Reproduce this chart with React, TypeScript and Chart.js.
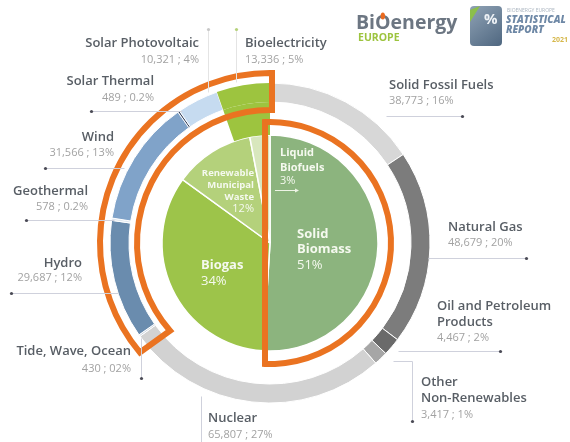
import React, { useEffect, useRef } from "react";
import { Chart, registerables } from "chart.js";
Chart.register(...registerables);

// ---- Data ----
const sourceLabels = [
  "Solid Fossil Fuels",
  "Natural Gas",
  "Oil and Petroleum Products",
  "Other Non-Renewables",
  "Nuclear",
  "Tide, Wave, Ocean",
  "Hydro",
  "Geothermal",
  "Wind",
  "Solar Thermal",
  "Solar Photovoltaic",
  "Bioelectricity",
];
const sourceValues = [38773, 48679, 4467, 3417, 65807, 430, 29687, 578, 31566, 489, 10321, 13336];
const sourceShares = ["16%", "20%", "2%", "1%", "27%", "02%", "12%", "0.2%", "13%", "0.2%", "4%", "5%"];

const bioLabels = ["Solid Biomass", "Biogas", "Renewable Municipal Waste", "Liquid Biofuels"];
const bioShares = [51, 34, 12, 3];

// ---- Styles ----
const sourceColors = [
  "#d7d7d7", "#7c7c7c", "#6a6a6a", "#a6a6a6", "#d2d2d2", "#c9d3de",
  "#6a8cae", "#dfe7f0", "#80a3c9", "#34435f", "#c6dbf0", "#9dc43f",
];
const bioColors = ["#8cb47e", "#9dc44a", "#b4d17b", "#d8e7bd"];
const ORANGE = "#ea7321";

// label layout (positions only)
type Lay = { align: CanvasTextAlign; x: number; ty: number[]; lines?: string[]; vy: number; lead: number[][]; dot?: number[]; dotColor?: string; leadColor?: string };
const outerLayout: Lay[] = [
  { align: "left", x: 389, ty: [85], vy: 101, lead: [[386, 116], [462, 116]], dot: [462, 116] },
  { align: "left", x: 448, ty: [227], vy: 243, lead: [[428, 258], [526, 258]], dot: [526, 258] },
  { align: "left", x: 437, ty: [306, 322], lines: ["Oil and Petroleum", "Products"], vy: 338, lead: [[398, 351], [500, 351]], dot: [500, 351] },
  { align: "left", x: 421, ty: [382, 398], lines: ["Other", "Non-Renewables"], vy: 415, lead: [[393, 361], [412, 361], [412, 421]], dot: [412, 421] },
  { align: "left", x: 208, ty: [418], vy: 435, lead: [[201, 396], [201, 442]] },
  { align: "right", x: 131, ty: [351], vy: 369, lead: [[141, 338], [141, 378]], dot: [141, 378] },
  { align: "right", x: 82, ty: [263], vy: 278, lead: [[11, 293], [118, 293]], dot: [11, 293] },
  { align: "right", x: 88, ty: [191], vy: 207, lead: [[26, 220], [114, 220]], dot: [26, 220] },
  { align: "right", x: 114, ty: [137], vy: 153, lead: [[45, 168], [124, 168]], dot: [45, 168] },
  { align: "right", x: 154, ty: [81], vy: 98, lead: [[91, 111], [182, 111]], dot: [91, 111] },
  { align: "right", x: 199, ty: [43], vy: 60, lead: [[208, 29], [208, 92]], dot: [208, 29], dotColor: "#c8c8c8", leadColor: "#e4e4e4" },
  { align: "left", x: 245, ty: [43], vy: 60, lead: [[236, 29], [236, 82]], dot: [236, 29], dotColor: "#b5d27a", leadColor: "#e4e4e4" },
];

type InLay = { align: CanvasTextAlign; x: number; lines: string[]; ys: number[]; size: number };
const innerLayout: InLay[] = [
  { align: "left", x: 297, lines: ["Solid", "Biomass"], ys: [234, 249, 265], size: 13 },
  { align: "left", x: 201, lines: ["Biogas"], ys: [265, 281], size: 13 },
  { align: "right", x: 254, lines: ["Renewable", "Municipal", "Waste"], ys: [173, 185, 197, 209], size: 9.5 },
  { align: "left", x: 280, lines: ["Liquid", "Biofuels"], ys: [153, 168, 181], size: 11 },
];

const FONT = "'Open Sans', 'DejaVu Sans', sans-serif";

function fmt(n: number) {
  return n.toLocaleString("en-US");
}

const deg = (d: number) => (d * Math.PI) / 180;

const decorPlugin = {
  id: "decor",
  afterDatasetsDraw(chart: any) {
    const ctx: CanvasRenderingContext2D = chart.ctx;
    const arc = chart.getDatasetMeta(0).data[0];
    const cx = arc.x, cy = arc.y;
    const total = sourceValues.reduce((a, b) => a + b, 0);
    // angle (clockwise from top) where renewables begin (Tide start)
    let cum = 0;
    for (let i = 0; i < 5; i++) cum += sourceValues[i];
    const phi = (cum / total) * 360;

    ctx.save();
    ctx.strokeStyle = ORANGE;
    ctx.lineWidth = 6;
    ctx.lineJoin = "miter";
    // outline 1: renewable ring band
    const rO = 170, rI = 133, off = 13, topOff = 2;
    const aTopO = Math.asin(topOff / rO) * 180 / Math.PI;
    const aTopI = Math.asin(topOff / rI) * 180 / Math.PI;
    const aEndO = phi - Math.asin(off / rO) * 180 / Math.PI;
    const aEndI = phi - Math.asin(off / rI) * 180 / Math.PI;
    ctx.beginPath();
    ctx.arc(cx, cy, rO, deg(aTopO - 90), deg(aEndO - 90), true);
    ctx.lineTo(cx + rI * Math.cos(deg(aEndI - 90)), cy + rI * Math.sin(deg(aEndI - 90)));
    ctx.arc(cx, cy, rI, deg(aEndI - 90), deg(aTopI - 90), false);
    ctx.closePath();
    ctx.stroke();

    // outline 2: solid biomass half
    const r2 = 121, d2 = 5;
    const h = Math.sqrt(r2 * r2 - d2 * d2);
    const a2 = Math.atan2(-h, -d2);
    ctx.beginPath();
    ctx.arc(cx, cy, r2, a2, -a2, false);
    ctx.closePath();
    ctx.stroke();
    ctx.restore();

    // inner labels
    ctx.save();
    ctx.fillStyle = "#f5f9ef";
    ctx.textBaseline = "middle";
    innerLayout.forEach((l, i) => {
      ctx.textAlign = l.align;
      ctx.font = `700 ${l.size}px ${FONT}`;
      l.lines.forEach((s, j) => ctx.fillText(s, l.x, l.ys[j]));
      ctx.font = `400 ${l.size + (i === 2 ? 1.5 : 0)}px ${FONT}`;
      ctx.fillText(bioShares[i] + "%", l.x, l.ys[l.lines.length]);
    });
    // liquid biofuels arrow
    ctx.strokeStyle = "#eef4e6";
    ctx.lineWidth = 1;
    ctx.beginPath();
    ctx.moveTo(275, 190.5);
    ctx.lineTo(297, 190.5);
    ctx.stroke();
    ctx.beginPath();
    ctx.moveTo(299, 190.5);
    ctx.lineTo(295, 188.5);
    ctx.lineTo(295, 192.5);
    ctx.closePath();
    ctx.fillStyle = "#eef4e6";
    ctx.fill();
    ctx.restore();
  },
  afterDraw(chart: any) {
    const ctx: CanvasRenderingContext2D = chart.ctx;
    ctx.save();
    // leaders
    outerLayout.forEach((l) => {
      ctx.strokeStyle = l.leadColor || "#cfd1dc";
      ctx.lineWidth = 1;
      ctx.beginPath();
      l.lead.forEach((p, k) => (k === 0 ? ctx.moveTo(p[0] + 0.5, p[1] + 0.5) : ctx.lineTo(p[0] + 0.5, p[1] + 0.5)));
      ctx.stroke();
      if (l.dot) {
        ctx.fillStyle = l.dotColor || "#4a4a55";
        ctx.beginPath();
        ctx.arc(l.dot[0] + 0.5, l.dot[1] + 0.5, 1.6, 0, Math.PI * 2);
        ctx.fill();
      }
    });
    // texts
    ctx.textBaseline = "middle";
    outerLayout.forEach((l, i) => {
      ctx.textAlign = l.align;
      ctx.fillStyle = "#585e65";
      ctx.font = `600 13px ${FONT}`;
      const lines = l.lines || [sourceLabels[i]];
      lines.forEach((s, j) => ctx.fillText(s, l.x, l.ty[j]));
      ctx.fillStyle = "#a2a2a2";
      ctx.font = `400 11px ${FONT}`;
      ctx.fillText(`${fmt(sourceValues[i])} ; ${sourceShares[i]}`, l.x, l.vy);
    });

    // logo
    ctx.textAlign = "left";
    ctx.textBaseline = "alphabetic";
    ctx.fillStyle = "#6c7682";
    ctx.font = `700 19.5px ${FONT}`;
    ctx.fillText("Bi", 356, 29);
    const wBi = ctx.measureText("Bi").width;
    const oX = 356 + wBi;
    ctx.fillText("O", oX, 29);
    const wO = ctx.measureText("O").width;
    ctx.fillText("energy", oX + wO, 29);
    // flame
    ctx.fillStyle = "#ea6a1f";
    ctx.beginPath();
    ctx.ellipse(oX + wO / 2, 16, 2.2, 3.6, 0, 0, Math.PI * 2);
    ctx.fill();
    ctx.fillStyle = "#9dc43f";
    ctx.font = `700 10.5px ${FONT}`;
    ctx.fillText("EUROPE", 358, 41);

    // report icon
    const g = ctx.createLinearGradient(470, 6, 502, 46);
    g.addColorStop(0, "#8fa2b5");
    g.addColorStop(1, "#4f6780");
    ctx.fillStyle = g;
    ctx.beginPath();
    (ctx as any).roundRect(470, 6, 32, 40, 4);
    ctx.fill();
    ctx.fillStyle = "#8cbf4a";
    ctx.beginPath();
    ctx.moveTo(470, 10);
    ctx.lineTo(480, 6);
    ctx.lineTo(470, 22);
    ctx.closePath();
    ctx.fill();
    ctx.fillStyle = "#eef2f6";
    ctx.font = `700 15px ${FONT}`;
    ctx.fillText("%", 484, 24);
    ctx.fillStyle = "#aab4bf";
    ctx.font = `400 5px ${FONT}`;
    ctx.fillText("BIOENERGY EUROPE", 507, 12);
    ctx.fillStyle = "#6e88a6";
    ctx.font = `italic 800 10px ${FONT}`;
    ctx.fillText("STATISTICAL", 506, 23);
    ctx.fillText("REPORT", 506, 33);
    ctx.fillStyle = "#d6b84c";
    ctx.font = `700 7px ${FONT}`;
    ctx.fillText("2021", 552, 42);
    ctx.restore();
  },
};

export default function App() {
  const ref = useRef<HTMLCanvasElement | null>(null);
  useEffect(() => {
    if (!ref.current) return;
    const bioIdx = sourceValues.length - 1;
    const chart = new Chart(ref.current, {
      type: "doughnut",
      data: {
        labels: sourceLabels,
        datasets: [
          {
            data: sourceValues,
            backgroundColor: sourceColors,
            borderColor: "#ffffff",
            borderWidth: sourceValues.map((_, i) => (i === bioIdx ? 0 : 1)),
            weight: 19,
          } as any,
          {
            data: sourceValues,
            backgroundColor: sourceValues.map((_, i) => (i === bioIdx ? sourceColors[bioIdx] : "rgba(0,0,0,0)")),
            borderWidth: 0,
            weight: 33,
          } as any,
          {
            data: bioShares,
            label: "Bioenergy",
            backgroundColor: bioColors,
            borderColor: "#ffffff",
            borderWidth: 1.5,
            weight: 108,
          } as any,
        ],
      },
      options: {
        responsive: false,
        animation: false,
        devicePixelRatio: 1,
        events: [],
        cutout: 0,
        radius: 160,
        layout: { padding: { left: 100, right: 130, top: 70, bottom: 26 } },
        plugins: { legend: { display: false }, tooltip: { enabled: false } },
      } as any,
      plugins: [decorPlugin],
    });
    return () => chart.destroy();
  }, []);
  return (
    <div style={{ position: "absolute", left: 0, top: 0, width: 570, height: 442, background: "#ffffff" }}>
      <canvas ref={ref} width={570} height={442} />
    </div>
  );
}
